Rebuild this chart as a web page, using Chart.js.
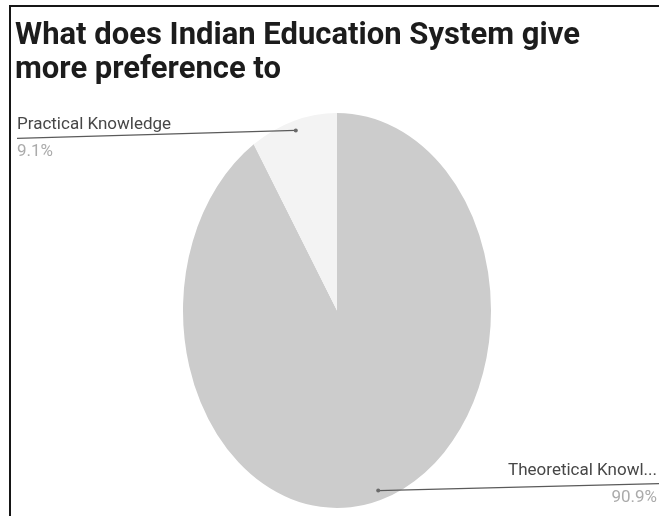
<!DOCTYPE html>
<html>
<head>
<meta charset="utf-8">
<title>Indian Education System</title>
<script src="https://cdn.jsdelivr.net/npm/chart.js@4/dist/chart.umd.min.js"></script>
<style>
  html, body { margin: 0; padding: 0; background: #ffffff; }
  #wrap { position: relative; width: 659px; height: 516px; overflow: hidden; }
  #frame {
    position: absolute; left: 9px; top: 5px; width: 660px; height: 520px;
    border-top: 2px solid #161616; border-left: 2px solid #161616;
    pointer-events: none;
  }
</style>
</head>
<body>
<div id="wrap">
  <canvas id="prefChart" width="659" height="516"></canvas>
  <div id="frame"></div>
</div>
<script>
// Survey answers
const categories = ["Theoretical Knowledge", "Practical Knowledge"];
const shortLabels = ["Theoretical Knowl...", "Practical Knowledge"];
const responses = [10, 1];
const sliceColors = ["#cccccc", "#f3f3f3"];

const titleLines = ["What does Indian Education System give", "more preference to"];

// the pie is drawn taller than wide
const yStretch = 1.2825;
const fontFamily = "Roboto, 'Liberation Sans', Arial, sans-serif";

// Stretch the pie vertically around its centre
const ovalPie = {
  id: "ovalPie",
  beforeDatasetsDraw(chart) {
    const arc = chart.getDatasetMeta(0).data[0];
    const ctx = chart.ctx;
    ctx.save();
    ctx.translate(arc.x, arc.y);
    ctx.scale(1, yStretch);
    ctx.translate(-arc.x, -arc.y);
  },
  afterDatasetsDraw(chart) {
    chart.ctx.restore();
  }
};

// Leader lines with name and percentage for each slice
const sliceLabels = {
  id: "sliceLabels",
  afterDraw(chart) {
    const ctx = chart.ctx;
    const total = responses.reduce((a, b) => a + b, 0);
    chart.getDatasetMeta(0).data.forEach((arc, i) => {
      const p = arc.getProps(["x", "y", "startAngle", "endAngle", "outerRadius"], true);
      const mid = (p.startAngle + p.endAngle) / 2;
      const ax = p.x + Math.cos(mid) * p.outerRadius * 0.95;
      const ay = p.y + Math.sin(mid) * p.outerRadius * 0.95 * yStretch;
      const left = ax < p.x;
      const lineY = ay + (left ? 8 : -7);
      const endX = left ? chart.chartArea.left + 2 : chart.width;
      const textX = left ? chart.chartArea.left + 2 : chart.width - 2;

      ctx.save();
      ctx.strokeStyle = "#5a5a5a";
      ctx.lineWidth = 1.2;
      ctx.beginPath();
      ctx.moveTo(ax, ay);
      ctx.lineTo(endX, lineY);
      ctx.stroke();
      ctx.fillStyle = "#6a6a6a";
      ctx.beginPath();
      ctx.arc(ax, ay, 2, 0, Math.PI * 2);
      ctx.fill();

      ctx.textAlign = left ? "left" : "right";
      ctx.textBaseline = "alphabetic";
      ctx.font = "17px " + fontFamily;
      ctx.fillStyle = "#474747";
      ctx.fillText(shortLabels[i], textX, lineY - 9);
      ctx.fillStyle = "#ababab";
      ctx.fillText((responses[i] / total * 100).toFixed(1) + "%", textX, lineY + 18);
      ctx.restore();
    });
  }
};

const ctx = document.getElementById("prefChart").getContext("2d");

new Chart(ctx, {
  type: "pie",
  data: {
    labels: categories,
    datasets: [{
      data: responses,
      backgroundColor: sliceColors,
      borderWidth: 0,
      hoverOffset: 0,
      clip: false
    }]
  },
  options: {
    responsive: false,
    animation: false,
    layout: {
      padding: { left: 15, right: -2, top: 0, bottom: 51.5 }
    },
    plugins: {
      legend: { display: false },
      tooltip: { enabled: false },
      title: {
        display: true,
        text: titleLines,
        align: "start",
        color: "#1c1c1c",
        font: { family: fontFamily, size: 31, weight: "bold", lineHeight: 34 / 31 },
        padding: { top: 19, bottom: 69.5 }
      }
    }
  },
  plugins: [ovalPie, sliceLabels]
});
</script>
</body>
</html>
